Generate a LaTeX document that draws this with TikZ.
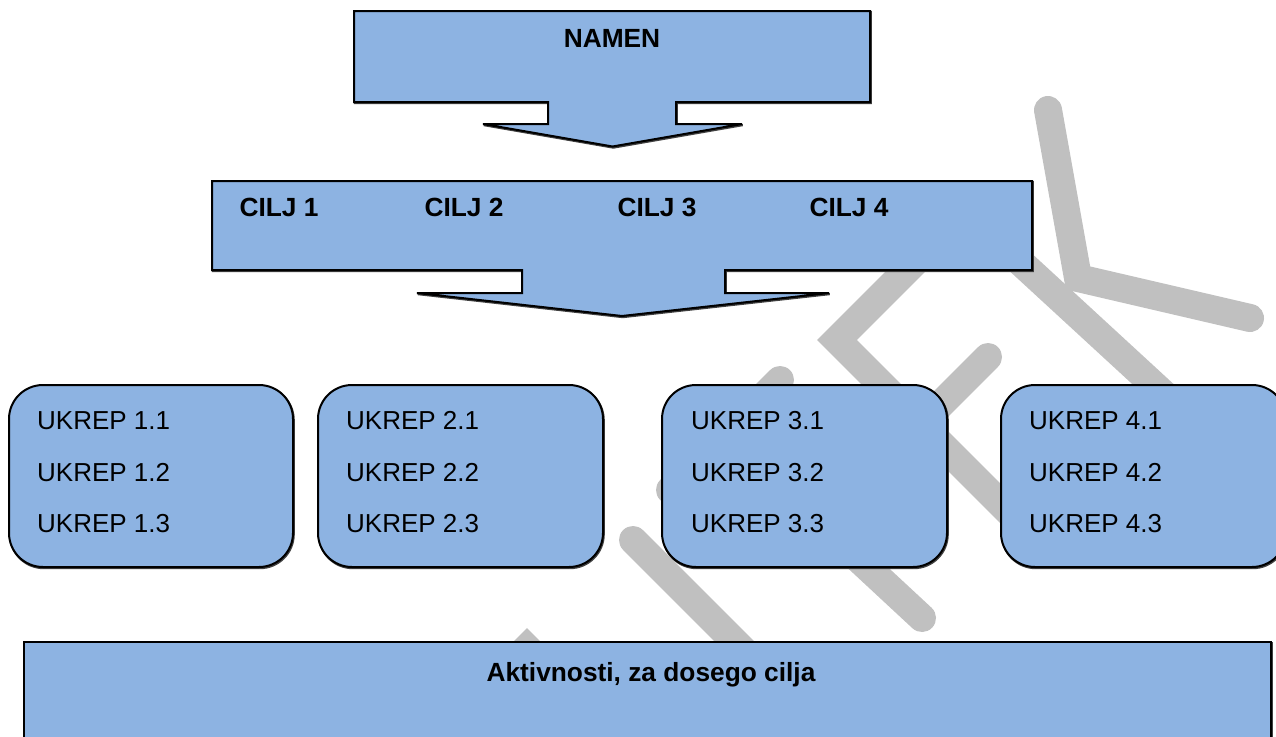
\documentclass[tikz,border=0pt]{standalone}
\usepackage{fontspec}
\setmainfont{Liberation Sans}
\definecolor{boxblue}{RGB}{141,179,226}
\definecolor{wgray}{RGB}{192,192,192}
\tikzset{
  panel/.style={fill=boxblue, draw=black, line width=2pt, line join=miter,
    preaction={draw=black!75, line width=2pt, transform canvas={shift={(0.8,1.2)}}}},
  pill/.style={panel, rounded corners=34pt},
  wstroke/.style={draw=wgray, line width=28pt, line cap=round, line join=miter},
  title/.style={font=\fontsize{26.3}{30}\selectfont\bfseries, inner sep=0pt, anchor=base},
  item/.style={font=\fontsize{26}{30}\selectfont, inner sep=0pt, anchor=base west},
}
\begin{document}
\begin{tikzpicture}[x=1pt, y=-1pt]
\useasboundingbox (0,0) rectangle (1276,736);
\fill[white] (0,0) rectangle (1276,736);

% background watermark lettering (thick rounded strokes)
% K
\draw[wstroke] (966,212) -- (1230,455);
\draw[wstroke] (1048,110) -- (1078,278) -- (1250,318);
% E
\draw[wstroke] (943,234) -- (837,340) -- (1007,510) -- (1113,404);
\draw[wstroke] (921,424) -- (988,357);
% T
\draw[wstroke] (670,490) -- (780,380);
\draw[wstroke] (725,435) -- (922,618);
% lower strokes
\draw[wstroke] (633,540) -- (770,677);
\draw[wstroke, line cap=butt] (477,698) -- (527,648) -- (577,698);

% purpose block with its arrow
\path[panel] (354,11) -- (870,11) -- (870,102) -- (676,102) -- (676,124)
  -- (742,124) -- (612.5,146.5) -- (483,124) -- (548,124) -- (548,102)
  -- (354,102) -- cycle;
\node[title] (namen) at (612,47) {NAMEN};

% goals block with its arrow
\path[panel] (212,181) -- (1032,181) -- (1032,270) -- (725,270) -- (725,293)
  -- (829,293) -- (622,316) -- (417,293) -- (522,293) -- (522,270)
  -- (212,270) -- cycle;
\node[title] (c1) at (279,216) {CILJ 1};
\node[title] (c2) at (464,216) {CILJ 2};
\node[title] (c3) at (657,216) {CILJ 3};
\node[title] (c4) at (849,216) {CILJ 4};

% measure boxes
\path[pill] (9,385) rectangle (293,567);
\path[pill] (318,385) rectangle (603,567);
\path[pill] (662,385) rectangle (947,567);
\path[pill] (1001,385) rectangle (1286,567);

\foreach \g/\x in {1/37, 2/346, 3/691, 4/1029} {
  \node[item] (u\g a) at (\x,429) {UKREP \g.1};
  \node[item] (u\g b) at (\x,481) {UKREP \g.2};
  \node[item] (u\g c) at (\x,532) {UKREP \g.3};
}

% activities block
\path[panel] (24,642) rectangle (1271,760);
\node[title] (akt) at (651,681) {Aktivnosti, za dosego cilja};
\end{tikzpicture}
\end{document}
